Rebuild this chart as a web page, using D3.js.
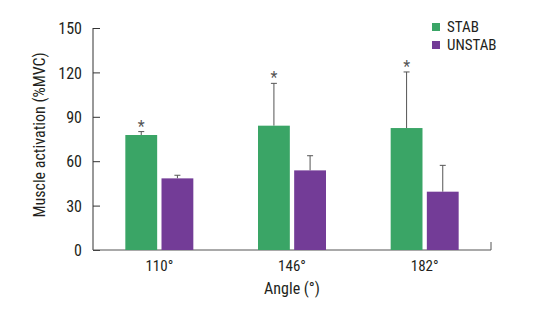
<!DOCTYPE html>
<html>
<head>
<meta charset="utf-8">
<script src="https://cdn.jsdelivr.net/npm/d3@7"></script>
<style>
  body { margin: 0; background: #fff; }
  svg text { font-family: "Liberation Sans Narrow", "Roboto Condensed", "Liberation Sans", sans-serif; fill: #231f20; }
</style>
</head>
<body>
<div id="chart"></div>
<script>
const angles = ["110°", "146°", "182°"];
const seriesNames = ["STAB", "UNSTAB"];
const stabMeans = [77.7, 84, 82.4];
const stabErrors = [2.3, 28.6, 37.9];
const unstabMeans = [48.4, 53.8, 39.4];
const unstabErrors = [2.1, 9.9, 17.8];
const significant = [true, true, true];
const yTicks = [0, 30, 60, 90, 120, 150];

const colors = { STAB: "#3aa566", UNSTAB: "#733c97" };

const margin = { top: 28, right: 49, bottom: 66, left: 93 };
const width = 540 - margin.left - margin.right;
const height = 316 - margin.top - margin.bottom;

const svg = d3.select("#chart")
    .append("svg")
    .attr("width", 540)
    .attr("height", 316)
    .append("g")
    .attr("transform", `translate(${margin.left},${margin.top})`);

const x = d3.scaleBand()
    .domain(angles)
    .range([0, width]);

const xInner = d3.scaleBand()
    .domain(seriesNames)
    .range([x.bandwidth() / 2 - 34, x.bandwidth() / 2 + 34])
    .paddingInner(0.12);

const y = d3.scaleLinear()
    .domain([0, 150])
    .range([height, 0]);

// y axis with inward ticks
const yAxis = svg.append("g")
    .call(d3.axisRight(y).tickValues(yTicks).tickSize(7).tickFormat(d3.format("d")));
yAxis.select(".domain").attr("stroke", "#333").attr("d", `M0,${height}V0`);
yAxis.selectAll(".tick line").attr("stroke", "#333");
yAxis.selectAll(".tick text")
    .attr("x", -11)
    .attr("text-anchor", "end")
    .attr("dy", "0.35em")
    .style("font-size", "16px");

// x axis
const xAxis = svg.append("g")
    .attr("transform", `translate(0,${height})`)
    .call(d3.axisBottom(x).tickSize(0));
xAxis.select(".domain").attr("stroke", "#555").attr("d", `M0,0H${width}V-8`);
xAxis.selectAll(".tick text")
    .attr("dy", "0.71em")
    .attr("y", 10)
    .style("font-size", "15px");

const data = angles.map((a, i) => ({
    angle: a,
    values: [
        { key: "STAB", mean: stabMeans[i], err: stabErrors[i], sig: significant[i] },
        { key: "UNSTAB", mean: unstabMeans[i], err: unstabErrors[i], sig: false }
    ]
}));

const groups = svg.selectAll(".group")
    .data(data)
    .enter().append("g")
    .attr("transform", d => `translate(${x(d.angle)},0)`);

const bars = groups.selectAll(".bar")
    .data(d => d.values)
    .enter().append("g");

// error bars (upper only)
bars.append("line")
    .attr("x1", d => xInner(d.key) + xInner.bandwidth() / 2)
    .attr("x2", d => xInner(d.key) + xInner.bandwidth() / 2)
    .attr("y1", d => y(d.mean))
    .attr("y2", d => y(d.mean + d.err))
    .attr("stroke", "#555")
    .attr("stroke-width", 1);

bars.append("line")
    .attr("x1", d => xInner(d.key) + xInner.bandwidth() / 2 - 3)
    .attr("x2", d => xInner(d.key) + xInner.bandwidth() / 2 + 3)
    .attr("y1", d => y(d.mean + d.err))
    .attr("y2", d => y(d.mean + d.err))
    .attr("stroke", "#555")
    .attr("stroke-width", 1);

bars.append("rect")
    .attr("x", d => xInner(d.key))
    .attr("y", d => y(d.mean))
    .attr("width", xInner.bandwidth())
    .attr("height", d => height - y(d.mean))
    .attr("fill", d => colors[d.key]);

bars.filter(d => d.sig).append("text")
    .attr("x", d => xInner(d.key) + xInner.bandwidth() / 2)
    .attr("y", d => y(d.mean + d.err))
    .attr("text-anchor", "middle")
    .style("font-size", "16px")
    .style("fill", "#555")
    .text("*");

// axis titles
svg.append("text")
    .attr("text-anchor", "middle")
    .attr("x", width / 2)
    .attr("y", height + 44)
    .style("font-size", "16px")
    .text("Angle (°)");

svg.append("text")
    .attr("text-anchor", "middle")
    .attr("transform", "rotate(-90)")
    .attr("x", -107)
    .attr("y", -48)
    .style("font-size", "16px")
    .text("Muscle activation (%MVC)");

// legend
const legend = svg.append("g")
    .attr("transform", `translate(${432 - margin.left},${22 - margin.top})`);

seriesNames.forEach((name, i) => {
    const row = legend.append("g").attr("transform", `translate(0,${i * 18})`);
    row.append("rect")
        .attr("y", 1)
        .attr("width", 8)
        .attr("height", 8)
        .attr("fill", colors[name]);
    row.append("text")
        .attr("x", 15)
        .attr("y", 5)
        .attr("dy", "0.35em")
        .style("font-size", "15px")
        .text(name);
});
</script>
</body>
</html>
